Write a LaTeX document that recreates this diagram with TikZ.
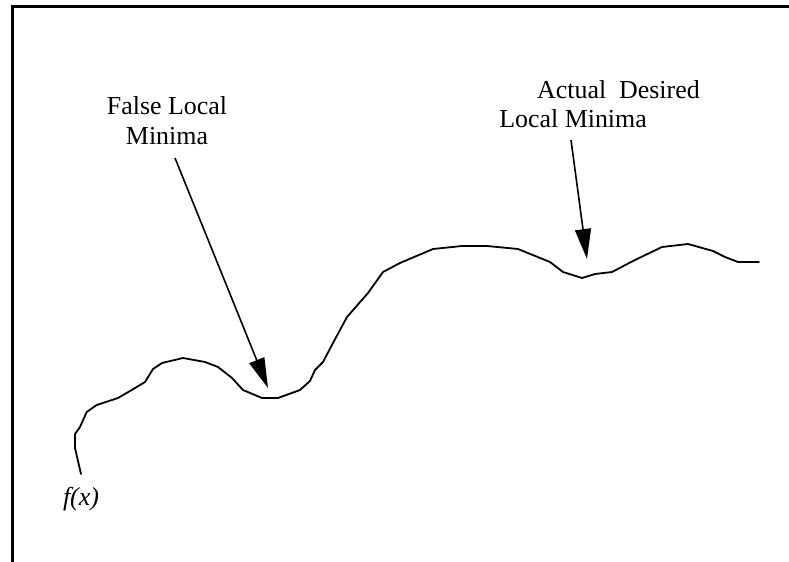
\documentclass[tikz,border=0pt]{standalone}
\usepackage{fontspec}
\setmainfont{Liberation Serif}
\usetikzlibrary{arrows.meta}
\begin{document}
\begin{tikzpicture}[x=1bp,y=-1bp,
  frameline/.style={line width=2.2bp},
  curveline/.style={line width=1.8bp, line join=round, line cap=round},
  pointer/.style={line width=1.6bp, -{Triangle[length=30bp,width=16bp]}},
  annot/.style={font=\fontsize{26}{30}\selectfont, inner sep=0pt}
]
\useasboundingbox (0,0) rectangle (789,562);

% open frame: left side and top edge
\draw[frameline] (12.5,562) -- (12.5,6.5) -- (789,6.5);

% the function f(x)
\draw[curveline] plot coordinates {
  (81,474) (75,448) (75,434) (80,427) (86.7,412) (96.7,405) (118,398)
  (130,391) (145,382) (153,369) (162,363) (183,358) (205,362) (218,367)
  (232,378) (243,390) (262,398) (278,398) (300,390) (310,381) (315,370)
  (323,362) (333,343) (347,317) (368,293) (383,272) (400,263) (433,249)
  (462,246) (487,246) (518,249) (550,262) (563,272) (582,278) (595,274)
  (612,272) (633,261) (662,247) (688,244) (713,251) (725,257) (738,262)
  (759,262)};

% labels
\node[annot, anchor=base] (fl1) at (167,115) {False Local};
\node[annot, anchor=base] (fl2) at (167,145) {Minima};
\node[annot, anchor=base west] (ad1) at (537,99) {Actual\ \ Desired};
\node[annot, anchor=base east] (ad2) at (647,128) {Local Minima};
\node[annot, font=\fontsize{26}{30}\selectfont\itshape, anchor=base] (fx) at (81,505) {f(x)};

% pointers to the minima
\coordinate (a1s) at (175,158);
\coordinate (a1t) at (268,388);
\coordinate (a2s) at (571,140);
\coordinate (a2t) at (587,259);
\draw[pointer] (a1s) -- (a1t);
\draw[pointer] (a2s) -- (a2t);
\end{tikzpicture}
\end{document}
